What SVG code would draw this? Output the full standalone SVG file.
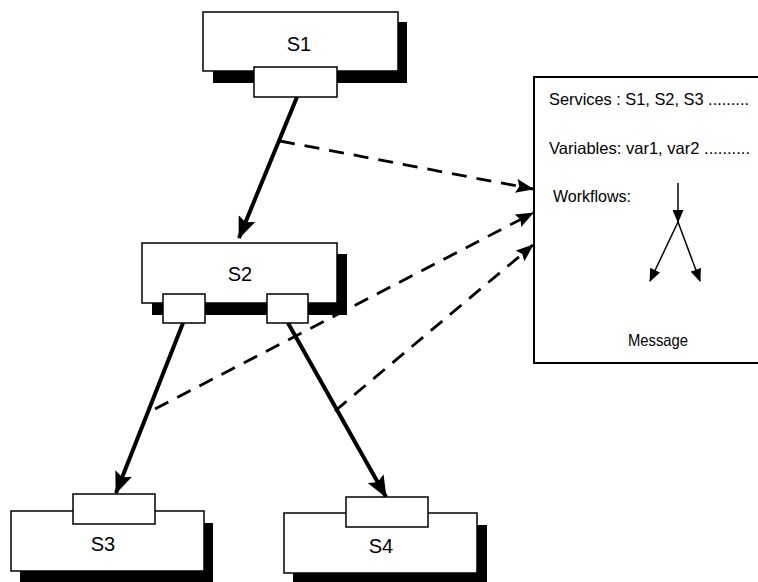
<svg xmlns="http://www.w3.org/2000/svg" width="758" height="582" viewBox="0 0 758 582">
  <style>
    .box { fill: #fff; stroke: #000; stroke-width: 1.5; }
    .shadow { fill: #000; }
    .port { fill: #fff; stroke: #000; stroke-width: 1.5; }
    .label { font-family: "Liberation Sans", Arial, sans-serif; font-size: 20px; fill: #000; text-anchor: middle; }
    .msg { font-family: "Liberation Sans", Arial, sans-serif; font-size: 16.5px; fill: #000; }
    .flow { fill: none; stroke: #000; stroke-width: 4; }
    .data { fill: none; stroke: #000; stroke-width: 2.8; stroke-dasharray: 15 10; }
    .thin { fill: none; stroke: #000; stroke-width: 1.5; }
  </style>
  <defs>
    <marker id="headBig" markerUnits="userSpaceOnUse" viewBox="0 0 22 18" refX="21" refY="9" markerWidth="22" markerHeight="18" orient="auto">
      <path d="M0,0 L22,9 L0,18 L4,9 Z" fill="#000"/>
    </marker>
    <marker id="headDash" markerUnits="userSpaceOnUse" viewBox="0 0 18 14" refX="17" refY="7" markerWidth="18" markerHeight="14" orient="auto">
      <path d="M0,0 L18,7 L0,14 L3,7 Z" fill="#000"/>
    </marker>
    <marker id="headSmall" markerUnits="userSpaceOnUse" viewBox="0 0 13 11" refX="12" refY="5.5" markerWidth="13" markerHeight="11" orient="auto">
      <path d="M0,0 L13,5.5 L0,11 Z" fill="#000"/>
    </marker>
  </defs>

  <rect width="758" height="582" fill="#fff"/>

  <!-- Connectors -->
  <g id="connectors">
    <!-- control flow between services -->
    <path class="flow" d="M297,97 L239,238" marker-end="url(#headBig)"/>
    <path class="flow" d="M183,323 L116,493" marker-end="url(#headBig)"/>
    <path class="flow" d="M288,323 L386,497" marker-end="url(#headBig)"/>
    <!-- message propagation -->
    <path class="data" d="M280,141 L533,189" marker-end="url(#headDash)"/>
    <path class="data" d="M155,409 L533,213" marker-end="url(#headDash)"/>
    <path class="data" d="M335,411 L533,245" marker-end="url(#headDash)"/>
  </g>

  <!-- Service S1 -->
  <g id="S1">
    <rect class="shadow" x="213" y="22" width="194" height="61"/>
    <rect class="box" x="203" y="12" width="195" height="59"/>
    <text class="label" x="299" y="51">S1</text>
    <rect class="port" x="254" y="67" width="83" height="30"/>
  </g>

  <!-- Service S2 -->
  <g id="S2">
    <rect class="shadow" x="152" y="254" width="195" height="61"/>
    <rect class="box" x="142" y="243" width="195" height="60"/>
    <text class="label" x="240" y="281">S2</text>
    <rect class="port" x="163" y="294" width="42" height="29"/>
    <rect class="port" x="267" y="294" width="41" height="29"/>
  </g>

  <!-- Service S3 -->
  <g id="S3">
    <rect class="shadow" x="20" y="523" width="193" height="60"/>
    <rect class="box" x="11" y="511" width="193" height="60"/>
    <rect class="port" x="73" y="494" width="82" height="30"/>
    <text class="label" x="103" y="551">S3</text>
  </g>

  <!-- Service S4 -->
  <g id="S4">
    <rect class="shadow" x="293" y="525" width="194" height="58"/>
    <rect class="box" x="284" y="513" width="193" height="60"/>
    <rect class="port" x="346" y="497" width="82" height="30"/>
    <text class="label" x="381" y="553">S4</text>
  </g>

  <!-- Message -->
  <g id="Message">
    <rect x="534" y="77" width="300" height="286" fill="#fff" stroke="#000" stroke-width="2"/>
    <text class="msg" x="549" y="105" textLength="200" lengthAdjust="spacingAndGlyphs">Services : S1, S2, S3 .........</text>
    <text class="msg" x="549" y="154" textLength="201" lengthAdjust="spacingAndGlyphs">Variables: var1, var2 ..........</text>
    <text class="msg" x="553" y="202" textLength="78" lengthAdjust="spacingAndGlyphs">Workflows:</text>
    <text class="msg" x="628" y="346" textLength="60" lengthAdjust="spacingAndGlyphs">Message</text>
    <path class="thin" d="M678,183 L678,222" marker-end="url(#headSmall)"/>
    <path class="thin" d="M678,222 L650,281" marker-end="url(#headSmall)"/>
    <path class="thin" d="M678,222 L700,281" marker-end="url(#headSmall)"/>
  </g>
</svg>
